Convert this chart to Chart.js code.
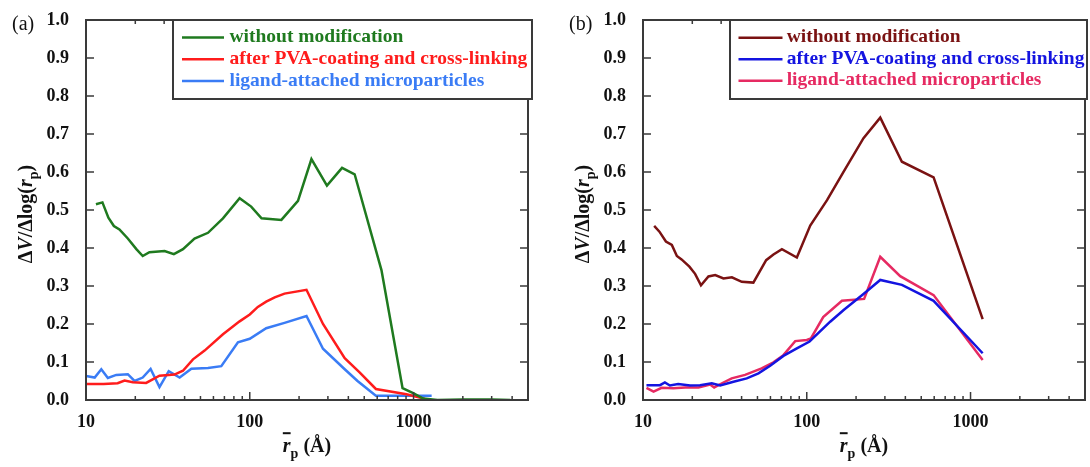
<!DOCTYPE html>
<html>
<head>
<meta charset="utf-8">
<script src="https://cdn.jsdelivr.net/npm/chart.js@4/dist/chart.umd.min.js"></script>
<style>
  body { margin: 0; background: #fff; width: 1090px; height: 467px; overflow: hidden; position: relative; }
  .pane { position: absolute; top: 0; width: 545px; height: 467px; }
  .pane canvas { position: absolute; left: 0; top: 0; }
  .tag { position: absolute; top: 12px; font: 20px "Liberation Serif", serif; line-height: 22px; color: #111; }
  .ytitle, .xtitle { position: absolute; font: bold 20px "Liberation Serif", serif; white-space: nowrap; line-height: 1; color: #111; }
  .ytitle { top: 214px; transform: translate(-50%, -50%) rotate(-90deg); }
  .xtitle { top: 448px; transform: translate(-50%, -50%); }
  .ytitle sub, .xtitle sub { font-size: 0.7em; vertical-align: -0.4em; }
  .bar { text-decoration: overline; }
</style>
</head>
<body>
<div class="pane" style="left:0">
  <canvas id="chartA" width="545" height="467"></canvas>
  <div class="tag" style="left:12px">(a)</div>
  <div class="ytitle" style="left:28px">&Delta;<i>V</i>/&Delta;log(<i>r</i><sub>p</sub>)</div>
  <div class="xtitle" style="left:307px"><i class="bar">r</i><sub>p</sub> (Å)</div>
</div>
<div class="pane" style="left:545px">
  <canvas id="chartB" width="545" height="467"></canvas>
  <div class="tag" style="left:24px">(b)</div>
  <div class="ytitle" style="left:40px">&Delta;<i>V</i>/&Delta;log(<i>r</i><sub>p</sub>)</div>
  <div class="xtitle" style="left:319px"><i class="bar">r</i><sub>p</sub> (Å)</div>
</div>
<script>
// pore radius (Å) and ΔV/Δlog(rp) for panel (a)
const aPlainR = [11.5, 12.6, 13.7, 14.8, 16.0, 18.0, 20.3, 22.2, 24.4, 30.2, 34.4, 39.1, 46, 55.6, 68.6, 86.7, 102, 118, 156, 197, 238, 296, 366, 437, 637, 857, 995, 1146, 1400, 2000, 3000, 3900];
const aPlainV = [0.515, 0.520, 0.480, 0.458, 0.449, 0.425, 0.397, 0.379, 0.389, 0.392, 0.384, 0.397, 0.425, 0.440, 0.478, 0.531, 0.509, 0.478, 0.474, 0.524, 0.634, 0.564, 0.611, 0.594, 0.342, 0.031, 0.018, 0.004, 0.0, 0.001, 0.001, 0.0];
const aCoatR = [10, 12.8, 15.6, 17.2, 19.3, 23.3, 28.1, 34.7, 39.1, 45, 53, 68.6, 86.7, 100, 112, 126, 142, 163, 222, 280, 380, 470, 589, 906, 1173];
const aCoatV = [0.042, 0.042, 0.044, 0.051, 0.047, 0.045, 0.064, 0.067, 0.077, 0.107, 0.130, 0.173, 0.207, 0.225, 0.245, 0.259, 0.270, 0.280, 0.290, 0.200, 0.110, 0.072, 0.029, 0.015, 0.003];
const aLigandR = [10, 11.3, 12.4, 13.6, 15.3, 18.0, 19.8, 22.2, 24.8, 28.1, 32, 37.3, 44, 55.6, 67, 84.7, 100, 126, 163, 222, 280, 380, 455, 589, 1290];
const aLigandV = [0.063, 0.059, 0.081, 0.058, 0.066, 0.068, 0.050, 0.059, 0.082, 0.034, 0.076, 0.059, 0.082, 0.084, 0.089, 0.152, 0.161, 0.189, 0.203, 0.221, 0.135, 0.081, 0.050, 0.011, 0.011];

// panel (b)
const bPlainR = [11.7, 12.6, 13.8, 15.0, 16.1, 17.2, 19.2, 20.8, 22.6, 25.1, 27.6, 31, 34.9, 40.1, 47.2, 56.5, 62.6, 70.5, 87, 105, 133, 168, 222, 281, 381, 595, 1186];
const bPlainV = [0.458, 0.443, 0.417, 0.408, 0.379, 0.370, 0.351, 0.332, 0.302, 0.325, 0.329, 0.320, 0.323, 0.311, 0.309, 0.368, 0.383, 0.397, 0.375, 0.459, 0.526, 0.601, 0.689, 0.743, 0.627, 0.586, 0.213];
const bCoatR = [10.5, 12.7, 13.6, 14.6, 16.4, 19.4, 22.3, 26.3, 29.6, 35.7, 43, 50.7, 59.8, 72, 87, 104, 139, 168, 222, 281, 381, 595, 1186];
const bCoatV = [0.039, 0.039, 0.046, 0.038, 0.042, 0.038, 0.039, 0.044, 0.038, 0.048, 0.057, 0.070, 0.090, 0.116, 0.136, 0.154, 0.206, 0.237, 0.279, 0.316, 0.303, 0.261, 0.123];
const bLigandR = [10.5, 11.6, 13, 15.3, 18.1, 21.8, 25.7, 27.2, 31, 34.8, 42, 53, 62.6, 72, 85, 100, 106, 126, 164, 224, 281, 372, 595, 1186];
const bLigandV = [0.032, 0.022, 0.032, 0.031, 0.033, 0.033, 0.041, 0.033, 0.046, 0.057, 0.066, 0.083, 0.099, 0.118, 0.155, 0.158, 0.162, 0.218, 0.261, 0.266, 0.377, 0.326, 0.276, 0.105];

const seriesNames = ['without modification', 'after PVA-coating and cross-linking', 'ligand-attached microparticles'];
const colorsA = ['#1f7a1f', '#ff1c1c', '#3a7cf5'];
const colorsB = ['#7a1212', '#1414e0', '#e62a62'];

const xTickValues = [10, 20, 30, 40, 50, 60, 70, 80, 90, 100, 200, 300, 400, 500, 600, 700, 800, 900, 1000, 2000, 3000, 4000];
const xLabelled = [10, 100, 1000];
const yTickValues = [0, 0.1, 0.2, 0.3, 0.4, 0.5, 0.6, 0.7, 0.8, 0.9, 1.0];

const serif = '"Liberation Serif", "Times New Roman", serif';

function pts(r, v) {
  return r.map((x, i) => ({ x: x, y: v[i] }));
}

// box round the plot with inward ticks on all four sides
const frameTicks = {
  id: 'frameTicks',
  afterDraw(chart) {
    const ctx = chart.ctx, a = chart.chartArea;
    const x = chart.scales.x, y = chart.scales.y;
    ctx.save();
    ctx.strokeStyle = '#3a3a3a';
    ctx.lineWidth = 1.5;
    ctx.beginPath();
    xTickValues.forEach(v => {
      const px = x.getPixelForValue(v);
      const len = xLabelled.includes(v) ? 8 : 4;
      ctx.moveTo(px, a.bottom); ctx.lineTo(px, a.bottom - len);
      ctx.moveTo(px, a.top); ctx.lineTo(px, a.top + len);
    });
    yTickValues.forEach(v => {
      const py = y.getPixelForValue(v);
      ctx.moveTo(a.left, py); ctx.lineTo(a.left + 8, py);
      ctx.moveTo(a.right, py); ctx.lineTo(a.right - 8, py);
    });
    ctx.stroke();
    ctx.lineWidth = 2;
    ctx.strokeRect(a.left, a.top, a.right - a.left, a.bottom - a.top);
    ctx.restore();
  }
};

// boxed legend in the upper right corner, text in the series colour
const insetLegend = {
  id: 'insetLegend',
  afterDraw(chart, args, o) {
    const ctx = chart.ctx;
    ctx.save();
    ctx.fillStyle = '#fff';
    ctx.fillRect(o.left, o.top, o.right - o.left, o.bottom - o.top);
    ctx.strokeStyle = '#3a3a3a';
    ctx.lineWidth = 2;
    ctx.strokeRect(o.left, o.top, o.right - o.left, o.bottom - o.top);
    ctx.font = 'bold 19.5px ' + serif;
    ctx.textBaseline = 'alphabetic';
    chart.data.datasets.forEach((ds, i) => {
      const yy = o.firstRow + i * o.rowGap;
      ctx.strokeStyle = ds.borderColor;
      ctx.lineWidth = 2.5;
      ctx.beginPath();
      ctx.moveTo(o.lineFrom, yy);
      ctx.lineTo(o.lineTo, yy);
      ctx.stroke();
      ctx.fillStyle = ds.borderColor;
      ctx.fillText(ds.label, o.textX, yy + 4.5);
    });
    ctx.restore();
  }
};

function makeChart(id, series, colors, yWidth, rightPad, legendBox) {
  return new Chart(document.getElementById(id), {
    type: 'line',
    data: {
      datasets: series.map((s, i) => ({
        label: seriesNames[i],
        data: pts(s[0], s[1]),
        borderColor: colors[i],
        borderWidth: 2.5,
        pointRadius: 0,
        tension: 0,
        fill: false
      }))
    },
    options: {
      responsive: false,
      animation: false,
      layout: { padding: { top: 20, right: rightPad, left: 0, bottom: 0 } },
      plugins: {
        legend: { display: false },
        tooltip: { enabled: false },
        insetLegend: legendBox
      },
      scales: {
        x: {
          type: 'logarithmic',
          min: 10,
          max: 5000,
          afterBuildTicks: s => { s.ticks = xTickValues.map(v => ({ value: v })); },
          afterFit: s => { s.height = 67; },
          grid: { display: false },
          border: { display: false },
          ticks: {
            autoSkip: false,
            maxRotation: 0,
            padding: 4,
            color: '#111',
            font: { family: serif, size: 18, weight: 'bold' },
            callback: v => xLabelled.includes(v) ? String(v) : ''
          }
        },
        y: {
          min: 0,
          max: 1,
          afterBuildTicks: s => { s.ticks = yTickValues.map(v => ({ value: v })); },
          afterFit: s => { s.width = yWidth; },
          grid: { display: false },
          border: { display: false },
          ticks: {
            padding: 9,
            color: '#111',
            font: { family: serif, size: 18, weight: 'bold' },
            callback: v => v.toFixed(1)
          }
        }
      }
    },
    plugins: [frameTicks, insetLegend]
  });
}

makeChart('chartA',
  [[aPlainR, aPlainV], [aCoatR, aCoatV], [aLigandR, aLigandV]],
  colorsA, 86, 17,
  { left: 173, top: 20, right: 532, bottom: 99, firstRow: 37.5, rowGap: 21.8, lineFrom: 182, lineTo: 224, textX: 229.5 });

makeChart('chartB',
  [[bPlainR, bPlainV], [bCoatR, bCoatV], [bLigandR, bLigandV]],
  colorsB, 98, 5,
  { left: 185, top: 20, right: 542, bottom: 99, firstRow: 37.7, rowGap: 21.5, lineFrom: 193.5, lineTo: 237.5, textX: 241.7 });
</script>
</body>
</html>
